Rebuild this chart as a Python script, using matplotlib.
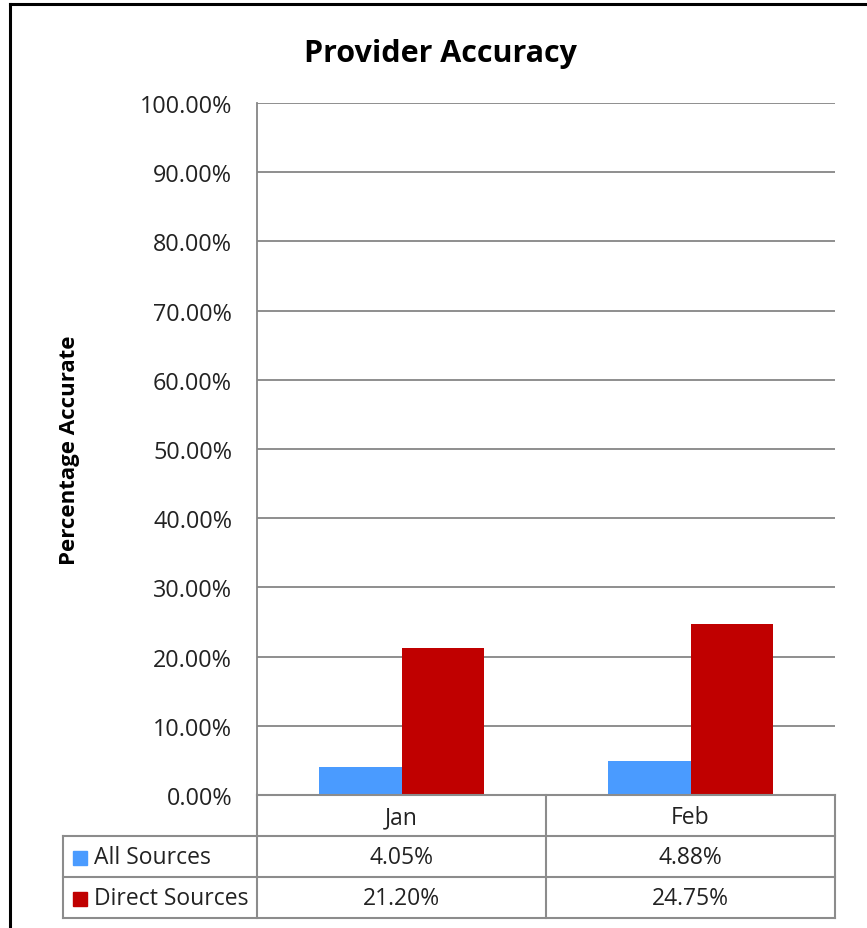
import numpy as np
import matplotlib.pyplot as plt
from matplotlib.lines import Line2D
from matplotlib.patches import Rectangle

plt.rcParams['font.family'] = ['Open Sans', 'DejaVu Sans']

months = ['Jan', 'Feb']
series_names = ['All Sources', 'Direct Sources']
all_sources = [4.05, 4.88]
direct_sources = [21.20, 24.75]
colors = ['#4A9BFF', '#C00000']

W, H = 867, 929
fig = plt.figure(figsize=(W / 100, H / 100), dpi=100)

# plot area in pixel coords of the reference
px_left, px_right, px_top, px_bottom = 257, 835, 104, 796
ax = fig.add_axes([px_left / W, 1 - px_bottom / H,
                   (px_right - px_left) / W, (px_bottom - px_top) / H])

x = np.arange(len(months))
bw = 0.287
ax.bar(x - bw / 2, all_sources, bw, color=colors[0], zorder=3)
ax.bar(x + bw / 2, direct_sources, bw, color=colors[1], zorder=3)

ax.set_xlim(-0.5, len(months) - 0.5)
ax.set_ylim(0, 100)
ax.set_yticks(np.arange(0, 101, 10))
ax.set_yticklabels(['%.2f%%' % v for v in np.arange(0, 101, 10)], fontsize=16.8, color='#222222')
ax.set_xticks([])
ax.tick_params(axis='y', length=0, pad=18)
for lbl in ax.get_yticklabels():
    lbl.set_va('center_baseline')
ax.grid(axis='y', color='#868686', linewidth=1.3, zorder=0)
for s in ['top', 'right', 'bottom']:
    ax.spines[s].set_visible(False)
ax.spines['left'].set_color('#868686')
ax.spines['left'].set_linewidth(1.3)

fig.text(441 / W, 1 - 54 / H, 'Provider Accuracy', ha='center', va='center',
         fontsize=22, fontweight='bold')
fig.text(69 / W, 1 - 450 / H, 'Percentage Accurate', ha='center', va='center',
         rotation=90, fontsize=16, fontweight='bold')

# data table below the axis
def fx(p):
    return p / W

def fy(p):
    return 1 - p / H

line_kw = dict(color='#8C8C8C', linewidth=1.5, transform=fig.transFigure)
col_edges = [257, 546, 835]
row_edges = [796, 837, 878, 919]
tbl_left = 63

# horizontal lines
fig.add_artist(Line2D([fx(257), fx(835)], [fy(796), fy(796)], **line_kw))
for yy in row_edges[1:]:
    fig.add_artist(Line2D([fx(tbl_left), fx(835)], [fy(yy), fy(yy)], **line_kw))
# vertical lines
fig.add_artist(Line2D([fx(tbl_left), fx(tbl_left)], [fy(837), fy(919)], **line_kw))
for xx in col_edges:
    fig.add_artist(Line2D([fx(xx), fx(xx)], [fy(796), fy(919)], **line_kw))

for i, m in enumerate(months):
    cx = (col_edges[i] + col_edges[i + 1]) / 2
    fig.text(fx(cx), fy(818), m, ha='center', va='center', fontsize=16.5, color='#222222')
    for j, vals in enumerate([all_sources, direct_sources]):
        cy = (row_edges[j + 1] + row_edges[j + 2]) / 2 + 1
        fig.text(fx(cx), fy(cy), '%.2f%%' % vals[i], ha='center', va='center',
                 fontsize=16.5, color='#222222')

for j, name in enumerate(series_names):
    cy = (row_edges[j + 1] + row_edges[j + 2]) / 2 + 1
    fig.add_artist(Rectangle((fx(73), fy(cy + 7)), 14 / W, 14 / H, color=colors[j],
                             transform=fig.transFigure))
    fig.text(fx(94), fy(cy), name, ha='left', va='center', fontsize=16.5, color='#222222')

# outer chart frame (cut off at right and bottom in the reference)
frame_kw = dict(color='black', linewidth=2.2, transform=fig.transFigure)
fig.add_artist(Line2D([fx(10), fx(10)], [fy(5), 0], **frame_kw))
fig.add_artist(Line2D([fx(10), 1], [fy(5), fy(5)], **frame_kw))

fig.savefig('out.png', dpi=100, facecolor='white')
